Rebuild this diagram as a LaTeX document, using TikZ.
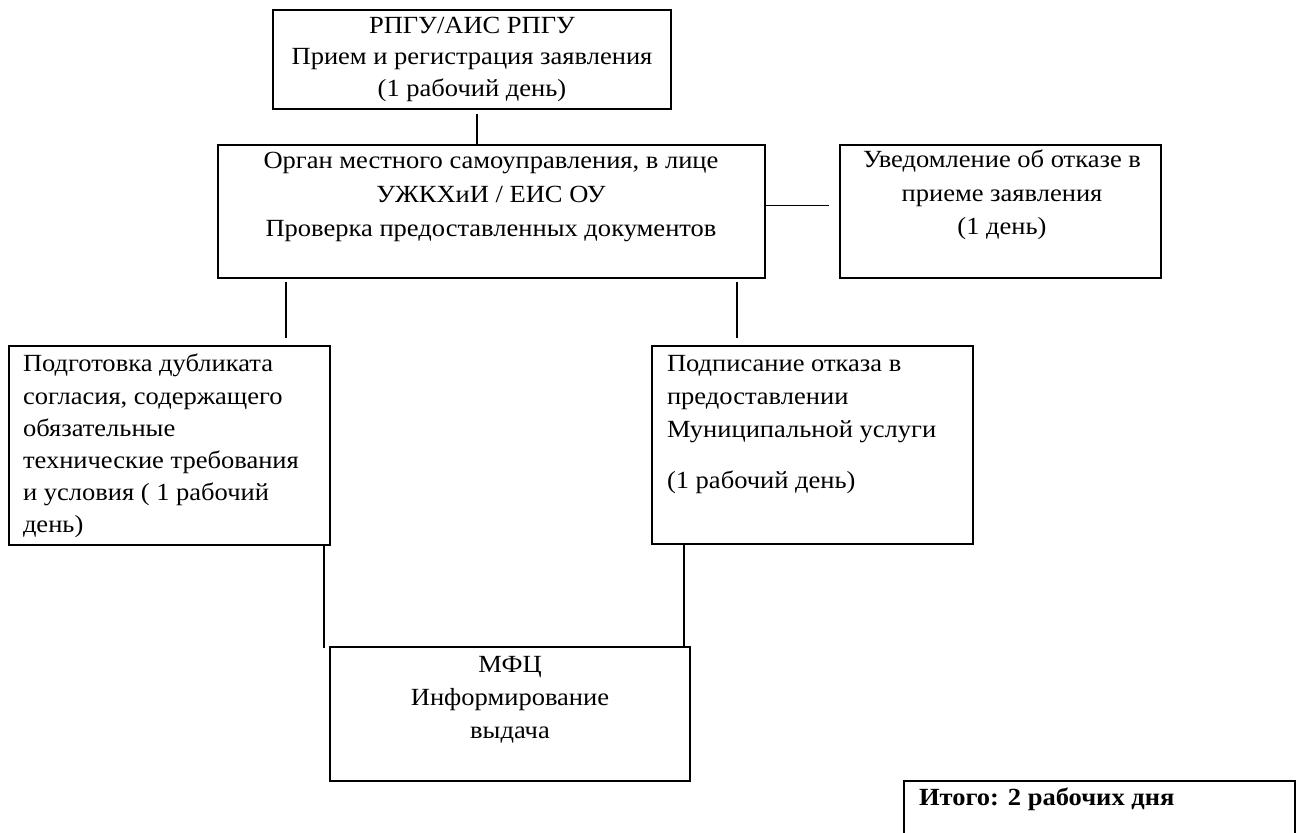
\documentclass[tikz,border=0pt]{standalone}
\usepackage{fontspec}
\setmainfont{Liberation Serif}[FakeStretch=1.075]
\usetikzlibrary{calc}
\newcommand{\topstrut}{\rule{0pt}{17pt}}
\begin{document}
\begin{tikzpicture}[x=0.75pt,y=-0.75pt,
  box/.style={draw=black,line width=1.5pt,inner sep=0pt,outer sep=0pt,anchor=north west},
  txt/.style={inner sep=0pt,outer sep=0pt,font=\fontsize{18.5}{24.4}\selectfont},
  link/.style={draw=black,line width=1.5pt},
  thinlink/.style={draw=black,line width=0.9pt}]
\useasboundingbox (0,0) rectangle (1301,832);
\fill[white] (0,0) rectangle (1301,832);
% boxes
\node[box,minimum width=398*0.75pt,minimum height=99*0.75pt] (b1) at (273,10) {};
\node[box,minimum width=547*0.75pt,minimum height=133*0.75pt] (b2) at (218,145) {};
\node[box,minimum width=321*0.75pt,minimum height=133*0.75pt] (b3) at (840,145) {};
\node[box,minimum width=321*0.75pt,minimum height=199*0.75pt] (b4) at (9,346) {};
\node[box,minimum width=321*0.75pt,minimum height=198*0.75pt] (b5) at (652,346) {};
\node[box,minimum width=360*0.75pt,minimum height=134*0.75pt] (b6) at (330,647) {};
\node[box,minimum width=391*0.75pt,minimum height=80*0.75pt] (b7) at (904,781) {};
% texts
\node[txt,anchor=north,align=center,font=\fontsize{18.5}{23.6}\selectfont] (t1) at (472,10.8) {\topstrut РПГУ/АИС РПГУ\\Прием и регистрация заявления\\(1 рабочий день)};
\node[txt,anchor=north,align=center,font=\fontsize{18.5}{25.3}\selectfont] (t2) at (491,146.3) {\topstrut Орган местного самоуправления, в лице\\УЖКХиИ / ЕИС ОУ\\Проверка предоставленных документов};
\node[txt,anchor=north,align=center,font=\fontsize{18.5}{25.1}\selectfont] (t3) at (1002,145.3) {\topstrut Уведомление об отказе в\\приеме заявления\\(1 день)};
\node[txt,anchor=north west,align=left,font=\fontsize{18.5}{24.15}\selectfont] (t4) at (23,349.3) {\topstrut Подготовка дубликата\\согласия, содержащего\\обязательные\\технические требования\\и условия ( 1 рабочий\\день)};
\node[txt,anchor=north west,align=left] (t5) at (667,349.3) {\topstrut Подписание отказа в\\предоставлении\\Муниципальной услуги\\[13.9pt](1 рабочий день)};
\node[txt,anchor=north,align=center] (t6) at (510,650.3) {\topstrut МФЦ\\Информирование\\выдача};
\node[txt,anchor=north west,align=left] (t7) at (919,783.3) {\topstrut\textbf{Итого: 2 рабочих дня}};
% connectors
\draw[link] ($(b1.south west)+(204,5)$) -- ($(b2.north west)+(259,0)$);
\draw[thinlink] ($(b2.north east)+(1,60.5)$) -- ($(b3.north west)+(-11,60.5)$);
\draw[link] ($(b2.south west)+(68,4)$) -- ($(b4.north west)+(277,-8)$);
\draw[link] ($(b2.south west)+(519,4)$) -- ($(b5.north west)+(85,-8)$);
\draw[link] ($(b4.south east)+(-6,1)$) -- ($(b6.north west)+(-6,1)$);
\draw[link] ($(b5.south west)+(32,1)$) -- ($(b6.north east)+(-6,1)$);
\end{tikzpicture}
\end{document}
